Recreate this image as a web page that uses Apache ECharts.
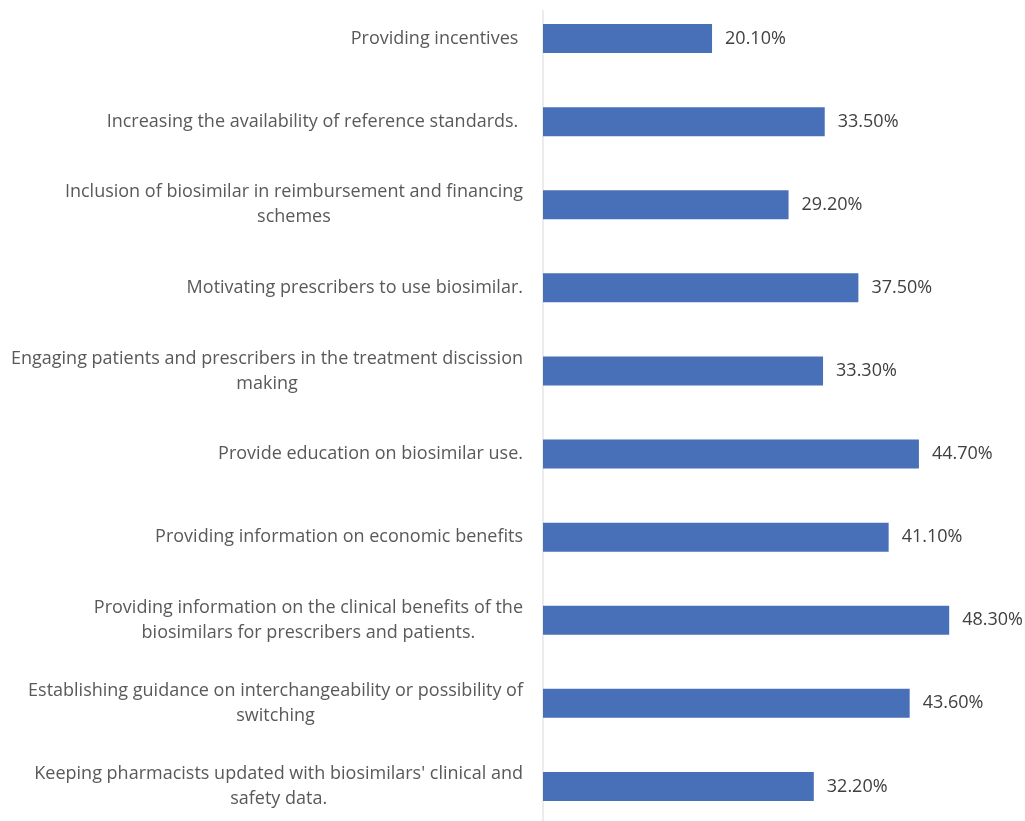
<!DOCTYPE html>
<html>
<head>
<meta charset="utf-8">
<style>html,body{margin:0;padding:0;background:#fff;overflow:hidden;}#chart{position:absolute;left:0;top:-3px;width:1025px;height:831px;}</style>
<script src="https://cdn.jsdelivr.net/npm/echarts@6/dist/echarts.min.js"></script>
</head>
<body>
<div id="chart"></div>
<script>
const categories = [
  "Providing incentives ",
  "Increasing the availability of reference standards. ",
  "Inclusion of biosimilar in reimbursement and financing\nschemes",
  "Motivating prescribers to use biosimilar.",
  "Engaging patients and prescribers in the treatment discission\nmaking",
  "Provide education on biosimilar use.",
  "Providing information on economic benefits",
  "Providing information on the clinical benefits of the\nbiosimilars for prescribers and patients.",
  "Establishing guidance on interchangeability or possibility of\nswitching",
  "Keeping pharmacists updated with biosimilars' clinical and\nsafety data."
];
const values = [20.1, 33.5, 29.2, 37.5, 33.3, 44.7, 41.1, 48.3, 43.6, 32.2];

const chart = echarts.init(document.getElementById('chart'));
chart.setOption({
  animation: false,
  grid: { left: 543, right: 61.5, top: 0, bottom: 0 },
  xAxis: { type: 'value', min: 0, max: 50, show: false },
  yAxis: {
    type: 'category', data: categories, inverse: true,
    axisLine: { show: false },
    axisTick: { show: false },
    axisLabel: {
      margin: 20, align: 'right',
      formatter: v => v.split('\n').map(s => '{c|' + s + '}').join('\n'),
      rich: {
        c: { align: 'center', color: '#595959', fontFamily: 'Open Sans', fontSize: 18, lineHeight: 25 }
      }
    }
  },
  series: [{
    type: 'bar', data: values, barWidth: 29,
    itemStyle: { color: '#4870B8' },
    label: {
      show: true, position: 'right', distance: 13,
      color: '#404040', fontFamily: 'Open Sans', fontSize: 18,
      formatter: p => p.value.toFixed(2) + '%'
    }
  }]
});
const x0 = chart.convertToPixel({ xAxisIndex: 0 }, 0);
chart.setOption({
  graphic: [{
    type: 'line', shape: { x1: x0, y1: 13, x2: x0, y2: 831 },
    style: { stroke: '#D9D9D9', lineWidth: 1 }, z: 0
  }]
});
</script>
</body>
</html>
